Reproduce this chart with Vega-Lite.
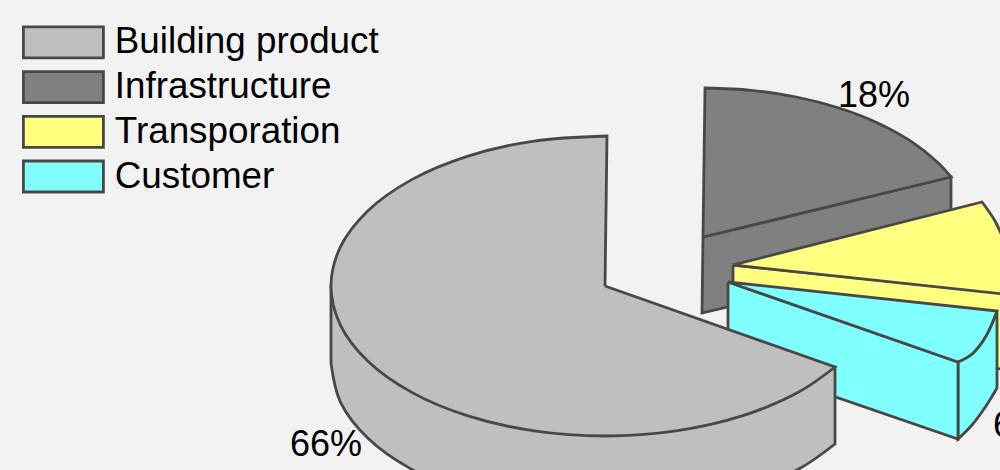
{"$schema":"https://vega.github.io/schema/vega-lite/v6.json","width":1000,"height":470,"padding":0,"autosize":{"type":"fit","contains":"padding"},"background":"#f2f2f2","config":{"view":{"stroke":null},"font":"Liberation Sans"},
"datasets":{"faces":[
{"s":"Infrastructure","f":"inf-wall","i":0,"x":703,"y":237},{"s":"Infrastructure","f":"inf-wall","i":0.5,"x":703,"y":237},{"s":"Infrastructure","f":"inf-wall","i":1,"x":951,"y":177},{"s":"Infrastructure","f":"inf-wall","i":1.5,"x":951,"y":177},{"s":"Infrastructure","f":"inf-wall","i":2,"x":951,"y":254},{"s":"Infrastructure","f":"inf-wall","i":2.5,"x":951,"y":254},{"s":"Infrastructure","f":"inf-wall","i":3,"x":702,"y":313},{"s":"Infrastructure","f":"inf-wall","i":3.5,"x":702,"y":313},{"s":"Infrastructure","f":"inf-wall","i":4,"x":703,"y":237},{"s":"Infrastructure","f":"inf-wall","i":4.5,"x":703,"y":237},
{"s":"Infrastructure","f":"inf-top","i":0,"x":703,"y":237},{"s":"Infrastructure","f":"inf-top","i":0.5,"x":703,"y":237},{"s":"Infrastructure","f":"inf-top","i":1,"x":705,"y":88},{"s":"Infrastructure","f":"inf-top","i":1.5,"x":705,"y":88},{"s":"Infrastructure","f":"inf-top","i":2,"x":750.9,"y":90.3},{"s":"Infrastructure","f":"inf-top","i":3,"x":796.3,"y":97},{"s":"Infrastructure","f":"inf-top","i":4,"x":839,"y":108},{"s":"Infrastructure","f":"inf-top","i":5,"x":877.6,"y":122.9},{"s":"Infrastructure","f":"inf-top","i":6,"x":910.8,"y":141.2},{"s":"Infrastructure","f":"inf-top","i":7,"x":937.8,"y":162.5},{"s":"Infrastructure","f":"inf-top","i":8,"x":951,"y":177},{"s":"Infrastructure","f":"inf-top","i":8.5,"x":951,"y":177},{"s":"Infrastructure","f":"inf-top","i":9,"x":703,"y":237},{"s":"Infrastructure","f":"inf-top","i":9.5,"x":703,"y":237},
{"s":"Transporation","f":"tra-wall","i":0,"x":733,"y":265},{"s":"Transporation","f":"tra-wall","i":0.5,"x":733,"y":265},{"s":"Transporation","f":"tra-wall","i":1,"x":1040,"y":297},{"s":"Transporation","f":"tra-wall","i":1.5,"x":1040,"y":297},{"s":"Transporation","f":"tra-wall","i":2,"x":1040,"y":373},{"s":"Transporation","f":"tra-wall","i":2.5,"x":1040,"y":373},{"s":"Transporation","f":"tra-wall","i":3,"x":733,"y":341},{"s":"Transporation","f":"tra-wall","i":3.5,"x":733,"y":341},{"s":"Transporation","f":"tra-wall","i":4,"x":733,"y":265},{"s":"Transporation","f":"tra-wall","i":4.5,"x":733,"y":265},
{"s":"Transporation","f":"tra-top","i":0,"x":733,"y":265},{"s":"Transporation","f":"tra-top","i":0.5,"x":733,"y":265},{"s":"Transporation","f":"tra-top","i":1,"x":982,"y":202},{"s":"Transporation","f":"tra-top","i":1.5,"x":982,"y":202},{"s":"Transporation","f":"tra-top","i":2,"x":995,"y":221},{"s":"Transporation","f":"tra-top","i":3,"x":1004,"y":242},{"s":"Transporation","f":"tra-top","i":4,"x":1007,"y":265},{"s":"Transporation","f":"tra-top","i":5,"x":1004,"y":294},{"s":"Transporation","f":"tra-top","i":5.5,"x":1004,"y":294},{"s":"Transporation","f":"tra-top","i":6,"x":733,"y":265},{"s":"Transporation","f":"tra-top","i":6.5,"x":733,"y":265},
{"s":"Customer","f":"cus-right","i":0,"x":958,"y":362},{"s":"Customer","f":"cus-right","i":0.5,"x":958,"y":362},{"s":"Customer","f":"cus-right","i":1,"x":972,"y":354},{"s":"Customer","f":"cus-right","i":2,"x":986,"y":336},{"s":"Customer","f":"cus-right","i":3,"x":997,"y":311},{"s":"Customer","f":"cus-right","i":3.5,"x":997,"y":311},{"s":"Customer","f":"cus-right","i":4,"x":997,"y":388},{"s":"Customer","f":"cus-right","i":4.5,"x":997,"y":388},{"s":"Customer","f":"cus-right","i":5,"x":986,"y":406},{"s":"Customer","f":"cus-right","i":6,"x":972,"y":425},{"s":"Customer","f":"cus-right","i":7,"x":958,"y":439},{"s":"Customer","f":"cus-right","i":7.5,"x":958,"y":439},{"s":"Customer","f":"cus-right","i":8,"x":958,"y":362},{"s":"Customer","f":"cus-right","i":8.5,"x":958,"y":362},
{"s":"Customer","f":"cus-front","i":0,"x":728,"y":282},{"s":"Customer","f":"cus-front","i":0.5,"x":728,"y":282},{"s":"Customer","f":"cus-front","i":1,"x":958,"y":362},{"s":"Customer","f":"cus-front","i":1.5,"x":958,"y":362},{"s":"Customer","f":"cus-front","i":2,"x":958,"y":439},{"s":"Customer","f":"cus-front","i":2.5,"x":958,"y":439},{"s":"Customer","f":"cus-front","i":3,"x":728,"y":360},{"s":"Customer","f":"cus-front","i":3.5,"x":728,"y":360},{"s":"Customer","f":"cus-front","i":4,"x":728,"y":282},{"s":"Customer","f":"cus-front","i":4.5,"x":728,"y":282},
{"s":"Customer","f":"cus-top","i":0,"x":728,"y":282},{"s":"Customer","f":"cus-top","i":0.5,"x":728,"y":282},{"s":"Customer","f":"cus-top","i":1,"x":997,"y":311},{"s":"Customer","f":"cus-top","i":1.5,"x":997,"y":311},{"s":"Customer","f":"cus-top","i":2,"x":986,"y":336},{"s":"Customer","f":"cus-top","i":3,"x":972,"y":354},{"s":"Customer","f":"cus-top","i":4,"x":958,"y":362},{"s":"Customer","f":"cus-top","i":4.5,"x":958,"y":362},{"s":"Customer","f":"cus-top","i":5,"x":728,"y":282},{"s":"Customer","f":"cus-top","i":5.5,"x":728,"y":282},
{"s":"Building product","f":"bui-wall","i":0,"x":835,"y":367},{"s":"Building product","f":"bui-wall","i":0.5,"x":835,"y":367},{"s":"Building product","f":"bui-wall","i":1,"x":835,"y":444},{"s":"Building product","f":"bui-wall","i":1.5,"x":835,"y":444},{"s":"Building product","f":"bui-wall","i":2,"x":798.7,"y":469.1},{"s":"Building product","f":"bui-wall","i":3,"x":742,"y":492.9},{"s":"Building product","f":"bui-wall","i":4,"x":675.9,"y":507.9},{"s":"Building product","f":"bui-wall","i":5,"x":605,"y":513},{"s":"Building product","f":"bui-wall","i":6,"x":534.1,"y":507.9},{"s":"Building product","f":"bui-wall","i":7,"x":468,"y":492.9},{"s":"Building product","f":"bui-wall","i":8,"x":411.3,"y":469.1},{"s":"Building product","f":"bui-wall","i":9,"x":367.7,"y":438},{"s":"Building product","f":"bui-wall","i":10,"x":340.3,"y":401.8},{"s":"Building product","f":"bui-wall","i":11,"x":331,"y":363},{"s":"Building product","f":"bui-wall","i":11.5,"x":331,"y":363},{"s":"Building product","f":"bui-wall","i":12,"x":331,"y":286},{"s":"Building product","f":"bui-wall","i":12.5,"x":331,"y":286},{"s":"Building product","f":"bui-wall","i":13,"x":835,"y":367},{"s":"Building product","f":"bui-wall","i":13.5,"x":835,"y":367},
{"s":"Building product","f":"bui-top","i":0,"x":605,"y":286},{"s":"Building product","f":"bui-top","i":0.5,"x":605,"y":286},{"s":"Building product","f":"bui-top","i":1,"x":607,"y":136},{"s":"Building product","f":"bui-top","i":1.5,"x":607,"y":136},{"s":"Building product","f":"bui-top","i":2,"x":534.1,"y":141.1},{"s":"Building product","f":"bui-top","i":3,"x":468,"y":156.1},{"s":"Building product","f":"bui-top","i":4,"x":411.3,"y":179.9},{"s":"Building product","f":"bui-top","i":5,"x":367.7,"y":211},{"s":"Building product","f":"bui-top","i":6,"x":340.3,"y":247.2},{"s":"Building product","f":"bui-top","i":7,"x":331,"y":286},{"s":"Building product","f":"bui-top","i":8,"x":340.3,"y":324.8},{"s":"Building product","f":"bui-top","i":9,"x":367.7,"y":361},{"s":"Building product","f":"bui-top","i":10,"x":411.3,"y":392.1},{"s":"Building product","f":"bui-top","i":11,"x":468,"y":415.9},{"s":"Building product","f":"bui-top","i":12,"x":534.1,"y":430.9},{"s":"Building product","f":"bui-top","i":13,"x":605,"y":436},{"s":"Building product","f":"bui-top","i":14,"x":675.9,"y":430.9},{"s":"Building product","f":"bui-top","i":15,"x":742,"y":415.9},{"s":"Building product","f":"bui-top","i":16,"x":798.7,"y":392.1},{"s":"Building product","f":"bui-top","i":17,"x":835,"y":367},{"s":"Building product","f":"bui-top","i":17.5,"x":835,"y":367},{"s":"Building product","f":"bui-top","i":18,"x":605,"y":286},{"s":"Building product","f":"bui-top","i":18.5,"x":605,"y":286}
],
"labels":[{"t":"18%","x":838,"y":107},{"t":"66%","x":290,"y":456},{"t":"6%","x":993,"y":437}]},
"layer":[
{"data":{"name":"faces"},"mark":{"type":"line","interpolate":"catmull-rom","stroke":"#484848","strokeWidth":2.8,"strokeJoin":"miter","clip":true},
"encoding":{
"x":{"field":"x","type":"quantitative","scale":{"domain":[0,1000],"nice":false,"zero":false},"axis":null},
"y":{"field":"y","type":"quantitative","scale":{"domain":[470,0],"nice":false,"zero":false},"axis":null},
"detail":{"field":"f"},
"order":{"field":"i","type":"quantitative"},
"fill":{"field":"s","type":"nominal","scale":{"domain":["Building product","Infrastructure","Transporation","Customer"],"range":["#bfbfbf","#808080","#ffff80","#80ffff"]},
"legend":{"title":null,"orient":"none","legendX":45,"legendY":24,"symbolType":"M-4,-1.55H4V1.55H-4Z","symbolSize":400,"symbolStrokeColor":"#484848","symbolStrokeWidth":2.8,"symbolOpacity":1,"labelFont":"Liberation Sans","labelFontSize":36.8,"labelColor":"#000000","labelOffset":33,"rowPadding":1.7,"labelLimit":400,"padding":0}}}},
{"data":{"name":"labels"},"mark":{"type":"text","align":"left","baseline":"alphabetic","font":"Liberation Sans","fontSize":36,"color":"#000000","clip":true},
"encoding":{"x":{"field":"x","type":"quantitative"},"y":{"field":"y","type":"quantitative"},"text":{"field":"t"}}}
]}
